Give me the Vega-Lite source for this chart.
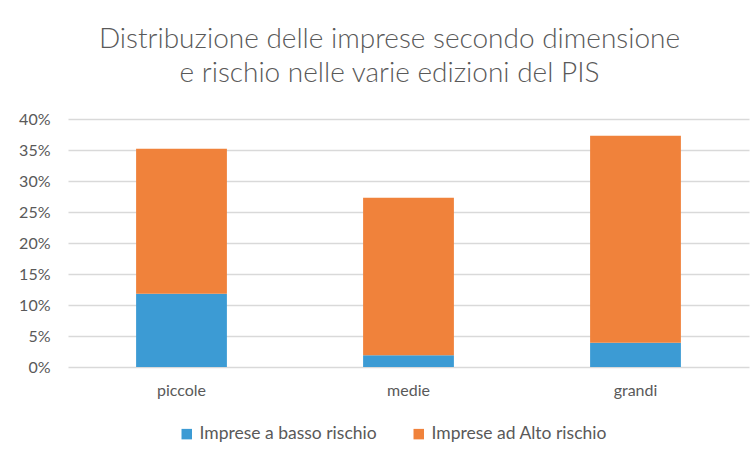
{
  "$schema": "https://vega.github.io/schema/vega-lite/v6.json",
  "width": 681,
  "height": 248,
  "autosize": {"type": "none"},
  "padding": {"left": 68, "top": 119, "right": 7, "bottom": 86},
  "background": "white",
  "title": {
    "text": ["Distribuzione delle imprese secondo dimensione", "e rischio nelle varie edizioni del PIS"],
    "font": "Lato",
    "fontSize": 28,
    "fontWeight": 300,
    "color": "#595959",
    "anchor": "middle",
    "dx": -19,
    "offset": 23,
    "lineHeight": 34
  },
  "data": {
    "values": [
      {"dimensione": "piccole", "rischio": "Imprese a basso rischio", "rank": 1, "valore": 0.118},
      {"dimensione": "piccole", "rischio": "Imprese ad Alto rischio", "rank": 2, "valore": 0.234},
      {"dimensione": "medie", "rischio": "Imprese a basso rischio", "rank": 1, "valore": 0.019},
      {"dimensione": "medie", "rischio": "Imprese ad Alto rischio", "rank": 2, "valore": 0.254},
      {"dimensione": "grandi", "rischio": "Imprese a basso rischio", "rank": 1, "valore": 0.039},
      {"dimensione": "grandi", "rischio": "Imprese ad Alto rischio", "rank": 2, "valore": 0.334}
    ]
  },
  "mark": {"type": "bar"},
  "encoding": {
    "x": {
      "field": "dimensione",
      "type": "nominal",
      "sort": ["piccole", "medie", "grandi"],
      "scale": {"paddingInner": 0.6, "paddingOuter": 0.3},
      "axis": {
        "title": null,
        "labelAngle": 0,
        "ticks": false,
        "domain": false,
        "labelFont": "Lato",
        "labelFontSize": 16,
        "labelColor": "#595959",
        "labelPadding": 15
      }
    },
    "y": {
      "field": "valore",
      "type": "quantitative",
      "stack": "zero",
      "scale": {"domain": [0, 0.4], "nice": false},
      "axis": {
        "title": null,
        "format": ".0%",
        "values": [0, 0.05, 0.1, 0.15, 0.2, 0.25, 0.3, 0.35, 0.4],
        "ticks": false,
        "domain": false,
        "gridColor": "#d9d9d9",
        "gridWidth": 1.5,
        "labelFont": "Lato",
        "labelFontSize": 16,
        "labelColor": "#595959",
        "labelPadding": 18
      }
    },
    "color": {
      "field": "rischio",
      "type": "nominal",
      "scale": {
        "domain": ["Imprese a basso rischio", "Imprese ad Alto rischio"],
        "range": ["#3c9bd4", "#f0823b"]
      },
      "legend": {
        "title": null,
        "orient": "none",
        "legendX": 110,
        "legendY": 306,
        "direction": "horizontal",
        "symbolType": "square",
        "symbolSize": 110,
        "symbolStrokeWidth": 0,
        "labelFont": "Lato",
        "labelFontSize": 17.5,
        "labelLimit": 0,
        "labelColor": "#595959",
        "columnPadding": 33
      }
    },
    "order": {"field": "rank", "type": "quantitative", "sort": "ascending"}
  },
  "config": {"view": {"stroke": null}}
}
